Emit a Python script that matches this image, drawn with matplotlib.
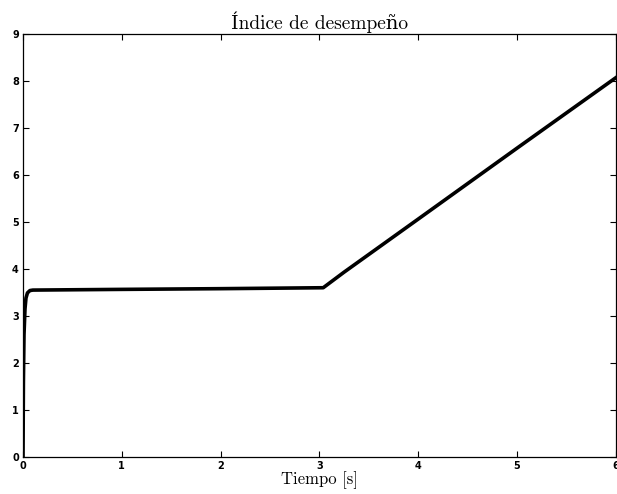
import numpy as np
import matplotlib.pyplot as plt

# performance index over time
tiempo = [0.0, 0.004, 0.01, 0.02, 0.03, 0.045, 0.07, 0.1, 1.0, 2.0, 3.04, 3.25, 4.0, 5.0, 6.0]
indice = [0.0, 1.6, 2.6, 3.15, 3.38, 3.49, 3.54, 3.55, 3.565, 3.58, 3.60, 3.93, 5.06, 6.57, 8.07]

xticks = [0, 1, 2, 3, 4, 5, 6]
yticks = [0, 1, 2, 3, 4, 5, 6, 7, 8, 9]

serif = ['cmr10', 'DejaVu Serif']

fig = plt.figure(figsize=(6.17, 4.94), dpi=100)
ax = fig.add_axes([0.0373, 0.0755, 0.9603, 0.8551])

ax.plot(tiempo, indice, color='black', linewidth=2.6, solid_joinstyle='round')

ax.set_xlim(0, 6)
ax.set_ylim(0, 9)
ax.set_xticks(xticks)
ax.set_yticks(yticks)
ax.tick_params(direction='in', length=4.3, width=0.8, top=True, right=True,
               labelsize=7, pad=3)
for lbl in ax.get_xticklabels() + ax.get_yticklabels():
    lbl.set_fontweight('bold')
    lbl.set_family('DejaVu Sans')
for sp in ax.spines.values():
    sp.set_linewidth(0.9)

ax.set_title('Índice de desempeño', family=serif, fontsize=14, pad=4)
ax.set_xlabel('Tiempo [s]', family=serif, fontsize=12, labelpad=0)

fig.savefig('out.png', dpi=100)
